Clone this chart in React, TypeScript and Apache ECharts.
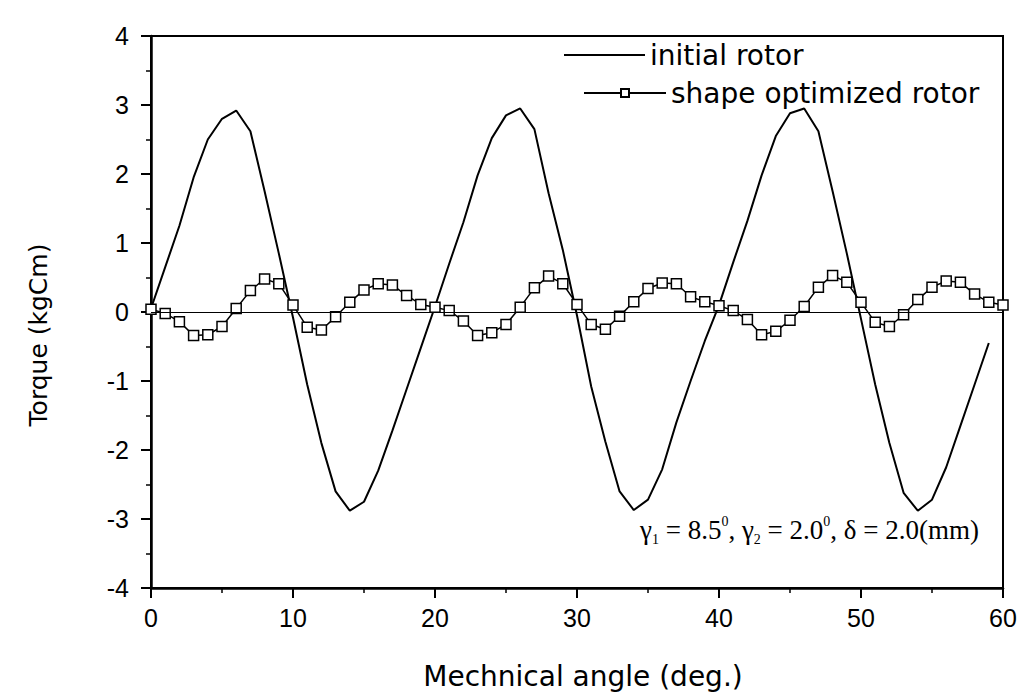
import React, { useEffect, useRef } from "react";
import * as echarts from "echarts";

const initialAngles = [
  0, 1, 2, 3, 4, 5, 6, 7, 8, 9, 10, 11, 12, 13, 14, 15, 16, 17, 18, 19,
  20, 21, 22, 23, 24, 25, 26, 27, 28, 29, 30, 31, 32, 33, 34, 35, 36, 37, 38, 39,
  40, 41, 42, 43, 44, 45, 46, 47, 48, 49, 50, 51, 52, 53, 54, 55, 56, 57, 58, 59,
];
const initialTorque = [
  0.05, 0.65, 1.25, 1.95, 2.5, 2.8, 2.92, 2.62, 1.75, 0.85,
  -0.08, -1.05, -1.9, -2.6, -2.88, -2.75, -2.3, -1.72, -1.12, -0.52,
  0.08, 0.7, 1.3, 1.98, 2.52, 2.85, 2.95, 2.65, 1.72, 0.9,
  -0.05, -1.08, -1.88, -2.6, -2.87, -2.72, -2.28, -1.6, -1.0, -0.42,
  0.1, 0.72, 1.32, 1.98, 2.55, 2.88, 2.95, 2.62, 1.75, 0.85,
  -0.1, -1.05, -1.9, -2.62, -2.88, -2.72, -2.25, -1.65, -1.05, -0.45,
];
const optimizedAngles = [
  0, 1, 2, 3, 4, 5, 6, 7, 8, 9, 10, 11, 12, 13, 14, 15, 16, 17, 18, 19,
  20, 21, 22, 23, 24, 25, 26, 27, 28, 29, 30, 31, 32, 33, 34, 35, 36, 37, 38, 39,
  40, 41, 42, 43, 44, 45, 46, 47, 48, 49, 50, 51, 52, 53, 54, 55, 56, 57, 58, 59, 60,
];
const optimizedTorque = [
  0.04, -0.02, -0.14, -0.34, -0.33, -0.21, 0.05, 0.31, 0.48, 0.41,
  0.1, -0.22, -0.26, -0.07, 0.14, 0.32, 0.41, 0.39, 0.24, 0.11,
  0.07, 0.02, -0.13, -0.34, -0.3, -0.18, 0.07, 0.35, 0.52, 0.41,
  0.11, -0.18, -0.25, -0.06, 0.15, 0.34, 0.42, 0.41, 0.22, 0.15,
  0.09, 0.02, -0.11, -0.33, -0.28, -0.12, 0.08, 0.36, 0.53, 0.43,
  0.14, -0.15, -0.21, -0.04, 0.18, 0.36, 0.45, 0.43, 0.26, 0.14, 0.1,
];
const seriesNames = ["initial rotor", "shape optimized rotor"];
const xTitle = "Mechnical angle (deg.)";
const yTitle = "Torque (kgCm)";

export default function App() {
  const ref = useRef<HTMLDivElement>(null);
  useEffect(() => {
    if (!ref.current) return;
    const chart = echarts.init(ref.current, null, { renderer: "svg" });
    const sans = "'Liberation Sans', Arial, sans-serif";
    const wide = "'DejaVu Sans', sans-serif";
    const serif = "'Liberation Serif', 'Times New Roman', serif";
    const axisCommon = {
      type: "value",
      axisLine: { show: true, onZero: false, lineStyle: { color: "#000", width: 2.5 } },
      axisTick: { show: true, inside: false, length: 10, lineStyle: { color: "#000", width: 2 } },
      minorTick: { show: true, splitNumber: 2, length: 5, lineStyle: { color: "#000", width: 1.5 } },
      splitLine: { show: false },
      minorSplitLine: { show: false },
    };
    const option: any = {
      animation: false,
      backgroundColor: "#fff",
      grid: {
        left: 151,
        right: 28,
        top: 36,
        bottom: 105,
        show: true,
        borderColor: "#000",
        borderWidth: 2,
        backgroundColor: "transparent",
      },
      xAxis: {
        ...axisCommon,
        min: 0,
        max: 60,
        interval: 10,
        axisLabel: { color: "#000", fontSize: 25, fontFamily: sans, margin: 17 },
      },
      yAxis: {
        ...axisCommon,
        min: -4,
        max: 4,
        interval: 1,
        axisLabel: { color: "#000", fontSize: 25, fontFamily: sans, margin: 22 },
      },
      legend: [
        {
          data: [{ name: seriesNames[0], itemStyle: { opacity: 0 } }],
          left: 563,
          top: 41,
          padding: 0,
          itemWidth: 81,
          itemHeight: 10,
          textStyle: { color: "#000", fontSize: 28, fontFamily: wide },
        },
        {
          data: [seriesNames[1]],
          left: 583,
          top: 79,
          padding: 0,
          itemWidth: 82,
          itemHeight: 10,
          textStyle: { color: "#000", fontSize: 28, fontFamily: wide },
        },
      ],
      series: [
        {
          name: seriesNames[0],
          type: "line",
          data: initialAngles.map((a, i) => [a, initialTorque[i]]),
          symbol: "none",
          lineStyle: { color: "#000", width: 2 },
          itemStyle: { color: "#000" },
          markLine: {
            silent: true,
            symbol: "none",
            label: { show: false },
            lineStyle: { color: "#000", width: 1.2, type: "solid" },
            data: [{ yAxis: 0 }],
          },
        },
        {
          name: seriesNames[1],
          type: "line",
          data: optimizedAngles.map((a, i) => [a, optimizedTorque[i]]),
          symbol: "rect",
          symbolSize: 10,
          lineStyle: { color: "#000", width: 1.5 },
          itemStyle: { color: "#fff", borderColor: "#000", borderWidth: 1.5 },
        },
      ],
      graphic: [
        {
          type: "text",
          x: 583,
          y: 676,
          style: {
            text: xTitle,
            fontSize: 28,
            fontFamily: wide,
            fill: "#000",
            align: "center",
            verticalAlign: "middle",
          },
        },
        {
          type: "text",
          x: 38,
          y: 335,
          rotation: Math.PI / 2,
          style: {
            text: yTitle,
            fontSize: 25,
            fontFamily: wide,
            fill: "#000",
            align: "center",
            verticalAlign: "middle",
          },
        },
        {
          type: "text",
          x: 979,
          y: 530,
          style: {
            text: "{t|γ}{s|1}{t| = 8.5}{p|0}{t|, γ}{s|2}{t| = 2.0}{p|0}{t|, δ = 2.0(mm)}",
            align: "right",
            verticalAlign: "middle",
            fill: "#000",
            rich: {
              t: { fontSize: 27, fontFamily: serif, fill: "#000", lineHeight: 32 },
              s: { fontSize: 14, fontFamily: serif, fill: "#000", verticalAlign: "bottom", lineHeight: 14 },
              p: { fontSize: 14, fontFamily: serif, fill: "#000", verticalAlign: "top", lineHeight: 14 },
            },
          },
        },
      ],
    };
    chart.setOption(option);
    return () => chart.dispose();
  }, []);
  return (
    <div
      ref={ref}
      style={{ position: "absolute", left: 0, top: 0, width: 1031, height: 693 }}
    />
  );
}
